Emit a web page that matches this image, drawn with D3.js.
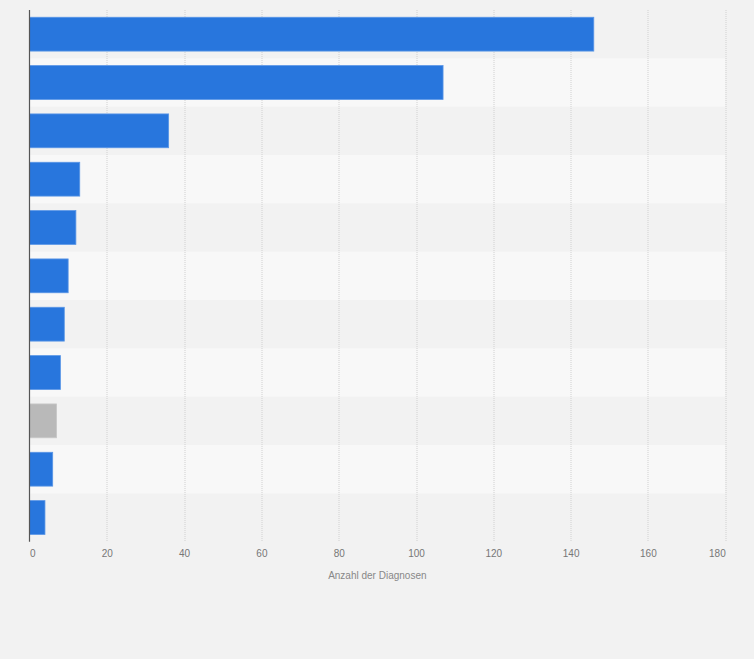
<!DOCTYPE html>
<html>
<head>
<meta charset="utf-8">
<script src="https://cdn.jsdelivr.net/npm/d3@7"></script>
<style>
  html, body { margin: 0; padding: 0; background: #f2f2f2; }
  svg { display: block; }
  text { font-family: "Liberation Sans", Arial, sans-serif; }
</style>
</head>
<body>
<svg id="chart" width="754" height="659"></svg>
<script>
// Data (categories have no visible labels in the reference)
const categories = ["K1", "K2", "K3", "K4", "K5", "K6", "K7", "K8", "K9", "K10", "K11"];
const values = [146, 107, 36, 13, 12, 10, 9, 8, 7, 6, 4];
const highlighted = [false, false, false, false, false, false, false, false, true, false, false];
const xTicks = [0, 20, 40, 60, 80, 100, 120, 140, 160, 180];
const xTitle = "Anzahl der Diagnosen";

const svg = d3.select("#chart");
const W = 754, H = 659;
const margin = { top: 10, left: 29.5, right: W - 725.2, bottom: H - 541.7 };
const plotW = W - margin.left - margin.right;
const plotH = H - margin.top - margin.bottom;

svg.append("rect").attr("width", W).attr("height", H).attr("fill", "#f2f2f2");

const g = svg.append("g").attr("transform", `translate(${margin.left},${margin.top})`);

const x = d3.scaleLinear().domain([0, 180]).range([0, plotW]);
const yBand = d3.scaleBand().domain(categories).range([0, plotH]);
const y = d3.scaleBand().domain(categories).range([0, plotH]).paddingInner(0.3).paddingOuter(0.15);

// alternating row bands
g.selectAll("rect.band")
  .data(categories.filter((d, i) => i % 2 === 1))
  .join("rect")
  .attr("class", "band")
  .attr("x", 0)
  .attr("y", d => yBand(d))
  .attr("width", plotW)
  .attr("height", yBand.bandwidth())
  .attr("fill", "#f8f8f8");

// grid lines
g.selectAll("line.grid")
  .data(xTicks.filter(t => t > 0))
  .join("line")
  .attr("class", "grid")
  .attr("x1", d => Math.round(x(d)) + 0.5)
  .attr("x2", d => Math.round(x(d)) + 0.5)
  .attr("y1", 0)
  .attr("y2", plotH)
  .attr("stroke", "#d0d0d0")
  .attr("stroke-width", 1)
  .attr("stroke-dasharray", "1,1");

// bars
g.selectAll("rect.bar")
  .data(categories)
  .join("rect")
  .attr("class", "bar")
  .attr("x", x(0))
  .attr("y", d => y(d))
  .attr("width", (d, i) => x(values[i]) - x(0))
  .attr("height", y.bandwidth())
  .attr("fill", (d, i) => highlighted[i] ? "#b9b9b9" : "#2876dd")
  .attr("stroke", (d, i) => highlighted[i] ? "#c8c8c8" : "#5a96e6")
  .attr("stroke-width", 0.8);

// y axis line
g.append("line")
  .attr("x1", 0).attr("x2", 0)
  .attr("y1", 0).attr("y2", plotH)
  .attr("stroke", "#555")
  .attr("stroke-width", 1.2);

// x axis tick labels
const xAxis = d3.axisBottom(x).tickValues(xTicks).tickSize(0).tickPadding(0);
const ax = g.append("g").attr("transform", `translate(0,${plotH})`).call(xAxis);
ax.select(".domain").remove();
ax.selectAll("text")
  .attr("y", 15)
  .attr("dy", "0")
  .attr("fill", "#777")
  .attr("font-size", "10px")
  .attr("font-family", "'Liberation Sans', Arial, sans-serif")
  .attr("text-anchor", (d, i) => i === 0 ? "start" : (i === xTicks.length - 1 ? "end" : "middle"));

// axis title
g.append("text")
  .attr("x", plotW / 2)
  .attr("y", plotH + 37)
  .attr("text-anchor", "middle")
  .attr("fill", "#888")
  .attr("font-size", "10px")
  .text(xTitle);
</script>
</body>
</html>
